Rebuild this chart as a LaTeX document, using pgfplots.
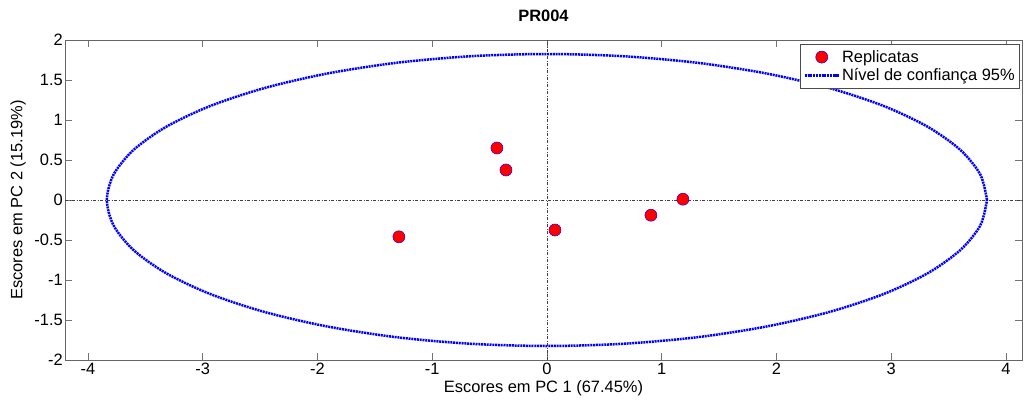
\documentclass[border=0pt]{standalone}
\usepackage{pgfplots}
\pgfplotsset{compat=1.18}
\usepackage{fontspec}
\setmainfont{Liberation Sans}
\begin{document}
\begin{tikzpicture}[x=1bp,y=1bp,font=\fontsize{16.5}{19}\selectfont]
\useasboundingbox (0,0) rectangle (1026,401);
\begin{axis}[at={(65bp,41bp)}, anchor=south west, scale only axis,
  width=957bp, height=320bp,
  xmin=-4.2, xmax=4.14, ymin=-2, ymax=2,
  xtick={-4,-3,-2,-1,0,1,2,3,4}, xticklabels={-4,-3,-2,-1,0,1,2,3,4},
  ytick={-2,-1.5,-1,-0.5,0,0.5,1,1.5,2}, yticklabels={-2,-1.5,-1,-0.5,0,0.5,1,1.5,2},
  tick align=inside, major tick length=7bp,
  tick style={black!55, line width=0.8bp},
  axis line style={black!60, line width=0.9bp},
  ticklabel style={font=\fontsize{16.5}{19}\selectfont},
  xticklabel style={inner sep=1bp, yshift=-2bp},
  yticklabel style={inner sep=1bp, xshift=-1bp},
  title={\textbf{PR004}},
  title style={font=\fontsize{16.5}{19}\selectfont, at={(axis description cs:0.5,1.058)}, anchor=center},
  xlabel={Escores em PC 1 (67.45\%)},
  ylabel={Escores em PC 2 (15.19\%)},
  xlabel style={font=\fontsize{16.5}{19}\selectfont, at={(axis description cs:0.5,-0.0875)}, anchor=center},
  ylabel style={font=\fontsize{16.5}{19}\selectfont, at={(axis description cs:-0.049,0.5)}, anchor=center},
  legend style={at={(0.998,0.9875)}, anchor=north east, draw=black!70, fill=white,
    font=\fontsize{16.5}{19}\selectfont, inner xsep=3bp, inner ysep=4bp, row sep=1bp, line width=0.8bp},
  legend image code/.code={\draw[mark repeat=2,mark phase=2,#1] plot coordinates {(0bp,0bp) (17bp,0bp) (34bp,0bp)};},
  legend cell align=left,
  clip=false,
]
\addplot[black!75, line width=0.7bp, dash pattern=on 3bp off 1.5bp on 1bp off 1.5bp, forget plot] coordinates {(-4.2,0) (4.14,0)};
\addplot[black!75, line width=0.7bp, dash pattern=on 3bp off 1.5bp on 1bp off 1.5bp, forget plot] coordinates {(0,-2) (0,2)};
\addplot[only marks, mark=*, mark size=6bp, mark options={fill=red, draw=blue!70!red, line width=0.6bp}] coordinates {
(-0.436,0.65) (-0.357,0.375) (-1.29,-0.46) (0.07,-0.375) (0.906,-0.19) (1.185,0.01)};
\addlegendentry{Replicatas}
\addplot[blue, line width=2.5bp, dash pattern=on 2bp off 0.8bp, smooth] coordinates {
(3.835,0)(3.777,0.317)(3.604,0.624)(3.321,0.913)(2.938,1.173)(2.465,1.398)(1.918,1.580)(1.312,1.715)(0.666,1.797)(0,1.825)
(-0.666,1.797)(-1.312,1.715)(-1.918,1.580)(-2.465,1.398)(-2.938,1.173)(-3.321,0.913)(-3.604,0.624)(-3.777,0.317)(-3.835,0)
(-3.777,-0.317)(-3.604,-0.624)(-3.321,-0.913)(-2.938,-1.173)(-2.465,-1.398)(-1.918,-1.580)(-1.312,-1.715)(-0.666,-1.797)(0,-1.825)
(0.666,-1.797)(1.312,-1.715)(1.918,-1.580)(2.465,-1.398)(2.938,-1.173)(3.321,-0.913)(3.604,-0.624)(3.777,-0.317)(3.835,0)};
\addlegendentry{Nível de confiança 95\%}
\end{axis}
\end{tikzpicture}
\end{document}
